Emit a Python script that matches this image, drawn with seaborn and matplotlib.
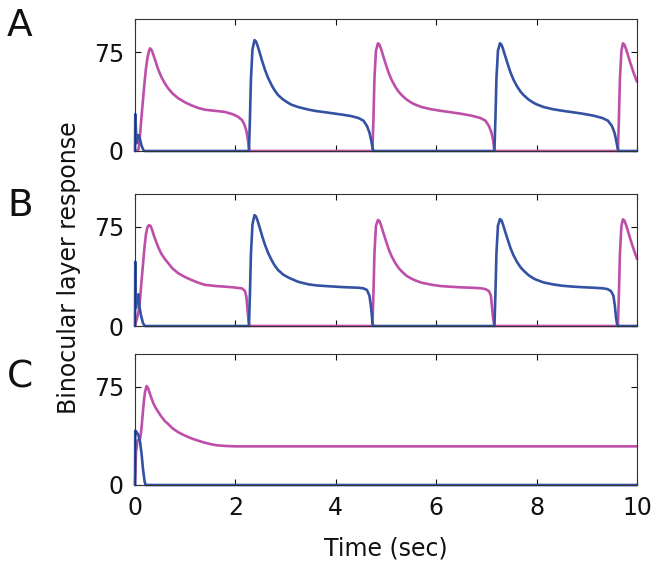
import matplotlib
matplotlib.use('Agg')
import matplotlib.pyplot as plt
import seaborn as sns

# ── Data (time in sec, response) ─────────────────────────────────────────
# Panel A
a_mag_t = [0, 0.07, 0.10, 0.13, 0.16, 0.19, 0.22, 0.25, 0.28, 0.30, 0.33, 0.36, 0.40, 0.46,
           0.52, 0.59, 0.66, 0.75, 0.86, 1.00, 1.13, 1.26, 1.39, 1.60, 1.79, 1.95, 2.05, 2.13,
           2.18, 2.22, 2.25, 2.27, 2.28,
           4.73, 4.75, 4.77, 4.80, 4.84, 4.87, 4.90, 4.94, 4.99, 5.05, 5.11, 5.18, 5.25, 5.31,
           5.41, 5.51, 5.58, 5.71, 5.90, 6.08, 6.30, 6.48, 6.70, 6.88, 6.98, 7.05, 7.10, 7.13,
           7.15, 7.16,
           9.62, 9.64, 9.66, 9.69, 9.72, 9.75, 9.78, 9.82, 9.87, 9.93, 10.0]
a_mag_v = [0, 1, 12, 26, 39, 52, 63, 71, 76, 77.8, 76.5, 73.5, 69, 62,
           56.5, 51.5, 47.5, 43.5, 40, 36.8, 34.5, 32.6, 31.3, 30.4, 29.6, 27.8, 26, 23.5,
           20, 15, 8, 2, 0,
           0, 25, 55, 76, 81.6, 80.5, 77.5, 72.5, 66.4, 59.5, 54, 49, 45, 42.4,
           39, 36.5, 35.2, 33.3, 31.6, 30.5, 29.3, 28.3, 26.8, 25, 23, 19, 14, 9,
           3, 0,
           0, 25, 55, 76, 81.6, 80.5, 77.5, 72.5, 66.4, 59.5, 52.5]
a_blue_t = [0, 0.005, 0.02, 0.035, 0.05, 0.07, 0.10, 0.13, 0.17, 0.20,
            2.27, 2.29, 2.31, 2.34, 2.38, 2.41, 2.44, 2.48, 2.53, 2.59, 2.65, 2.72, 2.78, 2.85,
            2.95, 3.05, 3.12, 3.25, 3.45, 3.60, 3.78, 3.95, 4.12, 4.30, 4.45, 4.55, 4.62, 4.67,
            4.70, 4.73, 4.75,
            7.16, 7.18, 7.20, 7.23, 7.27, 7.30, 7.33, 7.37, 7.42, 7.48, 7.54, 7.61, 7.68, 7.74,
            7.84, 7.94, 8.01, 8.14, 8.33, 8.51, 8.73, 8.91, 9.13, 9.31, 9.42, 9.50, 9.55, 9.58,
            9.61, 9.63, 10.0]
a_blue_v = [0, 28, 15, 6, 10, 12, 9, 4, 0.5, 0,
            0, 25, 55, 77, 84, 83, 80, 75, 68.5, 61.4, 55.5, 50, 46, 42.4,
            39, 36.5, 35, 33.3, 31.4, 30.3, 29.4, 28.5, 27.6, 26.5, 25, 23, 19, 14,
            9, 3, 0,
            0, 25, 55, 76, 81.6, 80.5, 77.5, 72.5, 66.4, 59.5, 54, 49, 45, 42.4,
            39, 36.5, 35.2, 33.3, 31.6, 30.5, 29.3, 28.3, 26.8, 25, 23, 19, 14, 9,
            3, 0, 0]

# Panel B
b_mag_t = [0, 0.04, 0.07, 0.10, 0.13, 0.16, 0.19, 0.22, 0.25, 0.28, 0.31, 0.34, 0.38, 0.42,
           0.46, 0.52, 0.59, 0.66, 0.75, 0.86, 1.00, 1.13, 1.26, 1.39, 1.60, 1.79, 1.95, 2.13,
           2.19, 2.22, 2.24, 2.26, 2.28,
           4.73, 4.75, 4.77, 4.80, 4.84, 4.87, 4.90, 4.94, 4.99, 5.05, 5.11, 5.18, 5.25, 5.31,
           5.41, 5.51, 5.58, 5.71, 5.90, 6.08, 6.30, 6.48, 6.70, 6.88, 6.98, 7.05, 7.09, 7.11,
           7.13, 7.15, 7.16,
           9.62, 9.64, 9.66, 9.69, 9.72, 9.75, 9.78, 9.82, 9.87, 9.93, 10.0]
b_mag_v = [0, 6, 10.8, 20, 34, 47, 60, 70, 75, 76.5, 75.8, 73, 68, 64,
           60, 55, 51, 47.7, 43.5, 40, 37, 34.8, 32.8, 31.2, 30.3, 29.8, 29.3, 28.5,
           26.5, 22, 13, 4, 0,
           0, 25, 55, 76, 80.3, 79.5, 76.5, 71.5, 65.5, 58.5, 53, 48, 44, 41.5,
           38, 35.8, 34.6, 32.8, 31.3, 30.3, 29.7, 29.3, 29, 28.6, 28, 26.5, 23, 15,
           7, 2, 0,
           0, 25, 55, 76, 80.8, 79.8, 76.8, 71.8, 65.5, 58.5, 50.8]
b_blue_t = [0, 0.005, 0.02, 0.035, 0.05, 0.07, 0.09, 0.12, 0.16, 0.20,
            2.27, 2.29, 2.31, 2.34, 2.38, 2.41, 2.44, 2.48, 2.53, 2.59, 2.65, 2.72, 2.78, 2.85,
            2.95, 3.05, 3.12, 3.25, 3.45, 3.60, 3.78, 3.95, 4.12, 4.30, 4.45, 4.55, 4.62, 4.67,
            4.70, 4.72, 4.73, 4.75,
            7.16, 7.18, 7.20, 7.23, 7.27, 7.30, 7.33, 7.37, 7.42, 7.48, 7.54, 7.61, 7.68, 7.74,
            7.84, 7.94, 8.01, 8.14, 8.33, 8.51, 8.73, 8.91, 9.13, 9.31, 9.41, 9.48, 9.53, 9.56,
            9.58, 9.60, 9.62, 10.0]
b_blue_v = [0, 48.7, 14, 22, 19.7, 24, 14, 8, 2, 0,
            0, 25, 55, 77, 84, 83, 80, 75, 68.5, 61.4, 55.5, 50, 46, 42.4,
            39, 36.8, 35.6, 33.5, 31.6, 30.8, 30.3, 29.9, 29.5, 29.2, 29, 28.5, 27.3, 23,
            15, 7, 2, 0,
            0, 25, 55, 76, 81, 80, 77, 72, 66, 59, 53.5, 48.5, 44.5, 42,
            38.5, 36, 34.8, 33, 31.5, 30.5, 29.8, 29.4, 29, 28.6, 28, 26.5, 23, 15,
            7, 2, 0, 0]

# Panel C
c_mag_t = [0, 0.02, 0.05, 0.10, 0.12, 0.14, 0.16, 0.18, 0.20, 0.23, 0.26, 0.29, 0.33, 0.37,
           0.41, 0.46, 0.52, 0.59, 0.66, 0.75, 0.86, 1.00, 1.13, 1.26, 1.39, 1.52, 1.63, 1.80,
           2.00, 10.0]
c_mag_v = [0, 25, 34, 35.2, 40, 48, 57, 65, 71, 75.5, 74, 70.5, 66, 62,
           59, 56, 52.5, 49, 46.6, 43.2, 40.3, 37.6, 35.5, 33.8, 32.3, 31.1, 30.3, 29.8,
           29.5, 29.5]
c_blue_t = [0, 0.005, 0.04, 0.07, 0.10, 0.13, 0.16, 0.19, 0.21, 10.0]
c_blue_v = [0, 41.5, 40, 37.8, 33, 24, 12, 3, 0, 0]

panel_labels = ['A', 'B', 'C']
x_ticks = [0, 2, 4, 6, 8, 10]
y_ticks = [0, 75]

MAGENTA = '#BE4FA9'
BLUE = '#3452A4'
INK = '#111111'

sns.set_style('ticks')
plt.rcParams['font.family'] = ['DejaVu Sans']
plt.rcParams['font.size'] = 17
plt.rcParams['text.color'] = INK
plt.rcParams['axes.labelcolor'] = INK

fig = plt.figure(figsize=(6.58, 5.72), dpi=100)

# axes boxes in figure fraction: left, bottom, width, height
boxes = [
    [135 / 658, 1 - 151 / 572, 502 / 658, 132 / 572],
    [135 / 658, 1 - 326 / 572, 502 / 658, 132 / 572],
    [135 / 658, 1 - 485 / 572, 502 / 658, 131 / 572],
]
series = [
    (a_mag_t, a_mag_v, a_blue_t, a_blue_v),
    (b_mag_t, b_mag_v, b_blue_t, b_blue_v),
    (c_mag_t, c_mag_v, c_blue_t, c_blue_v),
]
letter_y = [26, 206, 378]

for i, (box, (mt, mv, bt, bv)) in enumerate(zip(boxes, series)):
    ax = fig.add_axes(box)
    sns.lineplot(x=mt, y=mv, ax=ax, color=MAGENTA, lw=1.9, estimator=None, clip_on=False)
    sns.lineplot(x=bt, y=bv, ax=ax, color=BLUE, lw=1.9, estimator=None, clip_on=False)
    ax.set_xlim(0, 10)
    ax.set_ylim(0, 100)
    ax.set_xticks(x_ticks)
    ax.set_yticks(y_ticks)
    ax.tick_params(direction='in', length=4, width=0.8, top=True, right=True,
                   labelsize=17, pad=8, colors=INK)
    if i < 2:
        ax.set_xticklabels([])
    else:
        ax.set_xlabel('Time (sec)', fontsize=17, labelpad=12)
    for sp in ax.spines.values():
        sp.set_color('#333333')
        sp.set_linewidth(0.8)
    fig.text(20 / 658, 1 - letter_y[i] / 572, panel_labels[i], fontsize=27,
             ha='center', va='center')

fig.text(69 / 658, 1 - 268 / 572, 'Binocular layer response', rotation=90,
         fontsize=17, ha='center', va='center')

fig.savefig('out.png', dpi=100)
